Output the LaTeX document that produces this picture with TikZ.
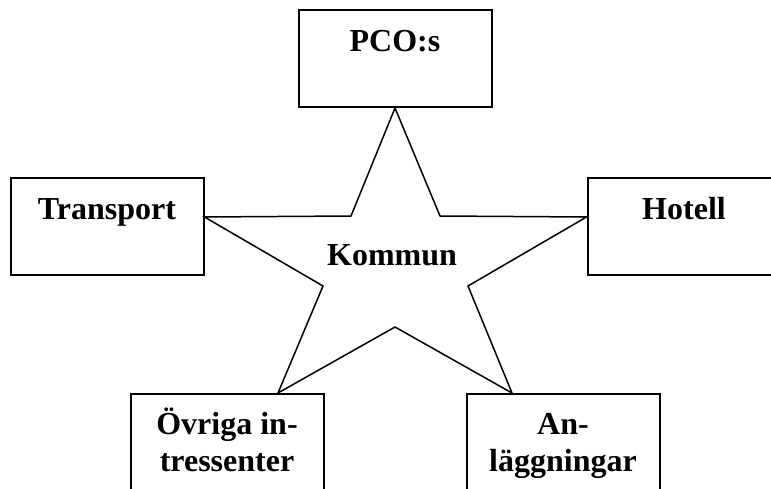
\documentclass[tikz,border=0pt]{standalone}
\usepackage{fontspec}
\setmainfont{Liberation Serif}
\usetikzlibrary{positioning}

\begin{document}
\begin{tikzpicture}[x=1pt,y=-1pt,
		box/.style={draw, line width=2pt, minimum width=193pt, minimum height=97pt, inner sep=0pt},
		lbl/.style={font=\fontsize{32}{36.5}\selectfont\bfseries, align=center, inner sep=0pt, anchor=base}]
					\useasboundingbox (0,0) rectangle (771,489);

					\node[box] (pco)       at (395,58.5)  {};
					\node[box] (transport) at (107,226.5) {};
					\node[box] (hotell)    at (684,226.5) {};
					\node[box] (ovriga)    at (227,442.5) {};
					\node[box] (anl)       at (563,442.5) {};

					\node[lbl] (pcotext)       at ([yshift=-43pt]pco.north)       {PCO:s};
					\node[lbl] (transporttext) at ([yshift=-43pt]transport.north) {Transport};
					\node[lbl] (hotelltext)    at ([yshift=-43pt]hotell.north)    {Hotell};
					\node[lbl] (ovrigatext)    at ([yshift=-78pt]ovriga.north)    {Övriga in-\\tressenter};
					\node[lbl] (anltext)       at ([yshift=-78pt]anl.north)       {An-\\läggningar};

					\draw[line width=1.5pt] (pco.south) -- (440,216)
						-- ([yshift=9.5pt]hotell.west) -- (468,286)
						-- ([xshift=-51pt]anl.north) -- (395,327)
						-- ([xshift=51pt]ovriga.north) -- (323,286)
						-- ([yshift=9.5pt]transport.east) -- (351,216) -- cycle;

					\node[lbl] (kommun) at (392,265.7) {Kommun};
				\end{tikzpicture}
\end{document}
